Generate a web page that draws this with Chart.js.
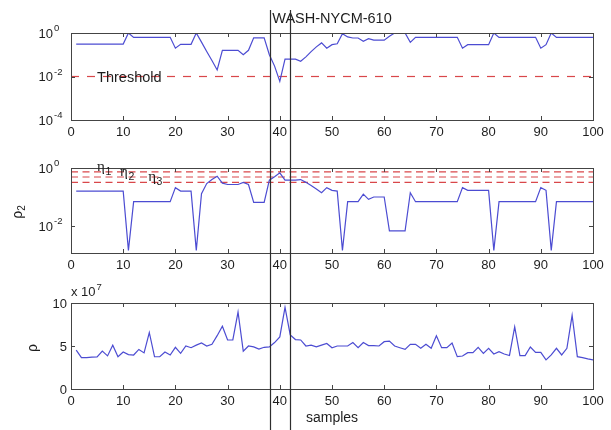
<!DOCTYPE html>
<html>
<head>
<meta charset="utf-8">
<script src="https://cdn.jsdelivr.net/npm/chart.js@4.4.0/dist/chart.umd.min.js"></script>
<style>
  html, body { margin: 0; padding: 0; background: #fff; }
  #wrap { position: relative; width: 611px; height: 430px; overflow: hidden; }
  canvas { position: absolute; left: 0; }
</style>
</head>
<body>
<div id="wrap">
  <canvas id="c1" width="611" height="145" style="top:0px"></canvas>
  <canvas id="c2" width="611" height="138" style="top:145px"></canvas>
  <canvas id="c3" width="611" height="147" style="top:283px"></canvas>
  <canvas id="ov" width="611" height="430" style="top:0px"></canvas>
</div>
<script>
// sample index (x axis of all three panels)
const samples = [
  1, 2, 3, 4, 5, 6, 7, 8, 9, 10, 11, 12, 13, 14, 15, 16, 17, 18, 19, 20,
  21, 22, 23, 24, 25, 26, 27, 28, 29, 30, 31, 32, 33, 34, 35, 36, 37, 38, 39, 40,
  41, 42, 43, 44, 45, 46, 47, 48, 49, 50, 51, 52, 53, 54, 55, 56, 57, 58, 59, 60,
  61, 62, 63, 64, 65, 66, 67, 68, 69, 70, 71, 72, 73, 74, 75, 76, 77, 78, 79, 80,
  81, 82, 83, 84, 85, 86, 87, 88, 89, 90, 91, 92, 93, 94, 95, 96, 97, 98, 99, 100
];

// top panel (log scale)
const rhoTop = [
  0.31, 0.31, 0.31, 0.31, 0.31, 0.31, 0.31, 0.31, 0.31, 0.31,
  1.0, 0.63, 0.63, 0.63, 0.63, 0.63, 0.63, 0.63, 0.63, 0.2,
  0.3, 0.3, 0.3, 1.0, 0.38, 0.14, 0.054, 0.02, 0.16, 0.16,
  0.16, 0.16, 0.1, 0.16, 0.6, 0.6, 0.6, 0.1, 0.03, 0.006,
  0.063, 0.063, 0.063, 0.05, 0.08, 0.14, 0.23, 0.35, 0.2, 0.29,
  0.32, 0.93, 0.66, 0.59, 0.59, 0.42, 0.55, 0.47, 0.47, 0.47,
  0.7, 1.0, 1.0, 1.0, 0.37, 0.63, 0.63, 0.63, 0.63, 0.63,
  0.63, 0.63, 0.63, 0.63, 0.2, 0.29, 0.29, 0.29, 0.29, 0.29,
  1.0, 0.63, 0.63, 0.63, 0.63, 0.63, 0.63, 0.63, 0.63, 0.2,
  0.29, 1.0, 0.63, 0.63, 0.63, 0.63, 0.63, 0.63, 0.63, 0.63
];

// middle panel, rho_2 (log scale)
const rho2 = [
  0.16, 0.16, 0.16, 0.16, 0.16, 0.16, 0.16, 0.16, 0.16, 0.16,
  0.00145, 0.069, 0.069, 0.069, 0.069, 0.069, 0.069, 0.069, 0.069, 0.21,
  0.16, 0.16, 0.16, 0.00145, 0.13, 0.29, 0.4, 0.52, 0.3, 0.27,
  0.27, 0.27, 0.32, 0.27, 0.065, 0.065, 0.065, 0.38, 0.5, 0.68,
  0.38, 0.38, 0.38, 0.4, 0.32, 0.25, 0.19, 0.14, 0.21, 0.17,
  0.16, 0.00145, 0.069, 0.069, 0.069, 0.126, 0.083, 0.1, 0.1, 0.1,
  0.0068, 0.0068, 0.0068, 0.0068, 0.14, 0.069, 0.069, 0.069, 0.069, 0.069,
  0.069, 0.069, 0.069, 0.069, 0.21, 0.17, 0.17, 0.17, 0.17, 0.17,
  0.00145, 0.069, 0.069, 0.069, 0.069, 0.069, 0.069, 0.069, 0.069, 0.21,
  0.17, 0.00145, 0.069, 0.069, 0.069, 0.069, 0.069, 0.069, 0.069, 0.069
];

// bottom panel, rho (in units of 10^7)
const rho = [
  4.53, 3.65, 3.65, 3.7, 3.72, 4.4, 3.85, 5.1, 3.75, 4.3,
  4.0, 3.95, 4.6, 4.2, 6.57, 3.75, 3.75, 4.3, 3.95, 4.85,
  4.15, 5.0, 4.8, 5.1, 5.35, 5.0, 5.2, 6.2, 7.3, 5.7,
  5.7, 8.95, 4.4, 5.0, 4.9, 4.65, 4.85, 4.9, 5.4, 6.05,
  9.5, 6.3, 5.75, 5.7, 5.0, 5.1, 4.9, 5.1, 5.3, 4.8,
  5.0, 5.0, 5.0, 5.4, 4.8, 5.4, 5.05, 5.05, 5.0, 5.5,
  5.57, 5.0, 4.8, 4.6, 5.2, 5.2, 4.75, 5.2, 4.73, 6.2,
  4.8, 4.8, 5.35, 3.76, 3.84, 4.23, 4.23, 4.84, 4.15, 4.73,
  4.07, 4.34, 4.07, 3.9, 7.22, 3.88, 3.88, 4.88, 4.26, 4.26,
  3.38, 3.96, 4.73, 3.96, 4.73, 8.57, 3.76, 3.65, 3.5, 3.38
];

const threshold = 0.01;
const etas = [0.73, 0.49, 0.32];
const markers = [38.2, 42];

const xTicks = [0, 10, 20, 30, 40, 50, 60, 70, 80, 90, 100];
const topYTicks = [1e-4, 1e-2, 1];
const topYExp = ['-4', '-2', '0'];
const midYTicks = [1e-2, 1];
const midYExp = ['-2', '0'];
const botYTicks = [0, 5, 10];

const BLUE = '#4c4cd2';
const RED = '#d9474a';
const AXIS = '#444';
const TXT = '#1e1e1e';
const SANS = '"Liberation Sans", Arial, sans-serif';
const SERIF = '"Liberation Serif", "Times New Roman", serif';

const pts = arr => arr.map((v, i) => ({ x: samples[i], y: v }));
const hline = v => [{ x: 0, y: v }, { x: 100, y: v }];

// MATLAB style box with inward ticks and y tick labels
const boxAxes = {
  id: 'boxAxes',
  afterDraw(chart, args, o) {
    const { ctx, chartArea: a, scales: { x, y } } = chart;
    ctx.save();
    ctx.strokeStyle = AXIS;
    ctx.lineWidth = 1;
    ctx.strokeRect(a.left + 0.5, a.top + 0.5, a.right - a.left, a.bottom - a.top);
    ctx.beginPath();
    xTicks.forEach(v => {
      const px = Math.round(x.getPixelForValue(v)) + 0.5;
      ctx.moveTo(px, a.bottom); ctx.lineTo(px, a.bottom - 4);
      ctx.moveTo(px, a.top); ctx.lineTo(px, a.top + 4);
    });
    o.yTicks.forEach(v => {
      const py = Math.round(y.getPixelForValue(v)) + 0.5;
      ctx.moveTo(a.left, py); ctx.lineTo(a.left + 4, py);
      ctx.moveTo(a.right, py); ctx.lineTo(a.right - 4, py);
    });
    ctx.stroke();

    ctx.fillStyle = TXT;
    ctx.textBaseline = 'middle';
    o.yTicks.forEach((v, i) => {
      const py = y.getPixelForValue(v);
      if (o.yExp) {
        ctx.font = '13px ' + SANS;
        ctx.textAlign = 'right';
        ctx.fillText('10', a.left - 18, py + 1);
        ctx.font = '9.5px ' + SANS;
        ctx.textAlign = 'left';
        ctx.fillText(o.yExp[i], a.left - 17, py - 4.5);
      } else {
        ctx.font = '13px ' + SANS;
        ctx.textAlign = 'right';
        ctx.fillText(String(v), a.left - 4, py + 1);
      }
    });
    if (o.draw) o.draw(chart, ctx);
    ctx.restore();
  }
};

function xScale(height) {
  return {
    type: 'linear', min: 0, max: 100,
    grid: { display: false, drawTicks: false },
    border: { display: false },
    afterBuildTicks: s => { s.ticks = xTicks.map(v => ({ value: v })); },
    afterFit: s => { s.height = height; },
    ticks: { autoSkip: false, maxRotation: 0, padding: 5, color: TXT, font: { family: SANS, size: 13 } }
  };
}

function makeChart(id, datasets, yScale, pad, xh, opts) {
  return new Chart(document.getElementById(id), {
    type: 'line',
    data: { datasets },
    options: {
      responsive: false,
      animation: false,
      devicePixelRatio: 1,
      layout: { padding: pad },
      plugins: { legend: { display: false }, tooltip: { enabled: false }, boxAxes: opts },
      elements: { point: { radius: 0 }, line: { tension: 0 } },
      scales: { x: xScale(xh), y: Object.assign({ display: false }, yScale) }
    },
    plugins: [boxAxes]
  });
}

function rotLabel(ctx, cx, cy, main, sub) {
  ctx.save();
  ctx.translate(cx, cy);
  ctx.rotate(-Math.PI / 2);
  ctx.font = '14px ' + SANS;
  const w1 = ctx.measureText(main).width;
  ctx.font = '10px ' + SANS;
  const w2 = sub ? ctx.measureText(sub).width : 0;
  const x0 = -(w1 + w2) / 2;
  ctx.textAlign = 'left';
  ctx.textBaseline = 'middle';
  ctx.font = '14px ' + SANS;
  ctx.fillText(main, x0, 0);
  if (sub) { ctx.font = '10px ' + SANS; ctx.fillText(sub, x0 + w1, 4); }
  ctx.restore();
}

const c1 = makeChart('c1', [
  { data: pts(rhoTop), borderColor: BLUE, borderWidth: 1.2 },
  { data: hline(threshold), borderColor: RED, borderWidth: 1.2, borderDash: [8, 8] }
], { type: 'logarithmic', min: topYTicks[0], max: topYTicks[2] },
{ left: 71, right: 18, top: 33, bottom: 0 }, 25,
{
  yTicks: topYTicks, yExp: topYExp,
  draw(chart, ctx) {
    const { chartArea: a, scales: { x, y } } = chart;
    ctx.textBaseline = 'middle';
    ctx.textAlign = 'center';
    ctx.font = '14.5px ' + SANS;
    ctx.fillText('WASH-NYCM-610', (a.left + a.right) / 2, 19);
    ctx.textAlign = 'left';
    ctx.font = '14.5px ' + SANS;
    ctx.fillText('Threshold', x.getPixelForValue(5), y.getPixelForValue(threshold) + 1);
  }
});

const etaX = [5, 9.4, 14.8];
const c2 = makeChart('c2', [
  { data: pts(rho2), borderColor: BLUE, borderWidth: 1.2 },
  ...etas.map(e => ({ data: hline(e), borderColor: RED, borderWidth: 1.2, borderDash: [7, 4.5] }))
], { type: 'logarithmic', min: 0.001175, max: 1 },
{ left: 71, right: 18, top: 23, bottom: 0 }, 30,
{
  yTicks: midYTicks, yExp: midYExp,
  draw(chart, ctx) {
    const { scales: { x, y } } = chart;
    ctx.textBaseline = 'middle';
    ctx.textAlign = 'left';
    etas.forEach((e, i) => {
      const px = x.getPixelForValue(etaX[i]);
      const py = y.getPixelForValue(e) - 5;
      ctx.font = '15px ' + SERIF;
      ctx.fillText('\u03b7', px, py);
      const w = ctx.measureText('\u03b7').width;
      ctx.font = '10.5px ' + SANS;
      ctx.fillText(String(i + 1), px + w + 0.5, py + 5);
    });
    // canvas c2 starts at page y=145
    rotLabel(ctx, 18, 212 - 145, '\u03c1', '2');
  }
});

const c3 = makeChart('c3', [
  { data: pts(rho), borderColor: BLUE, borderWidth: 1.2 }
], { type: 'linear', min: 0, max: 10 },
{ left: 71, right: 18, top: 20, bottom: 0 }, 41,
{
  yTicks: botYTicks,
  draw(chart, ctx) {
    const { chartArea: a } = chart;
    ctx.textBaseline = 'alphabetic';
    ctx.textAlign = 'left';
    ctx.font = '13px ' + SANS;
    ctx.fillText('x 10', a.left, a.top - 7);
    const w = ctx.measureText('x 10').width;
    ctx.font = '9.5px ' + SANS;
    ctx.fillText('7', a.left + w + 1, a.top - 13);
    ctx.textAlign = 'center';
    ctx.textBaseline = 'middle';
    ctx.font = '14px ' + SANS;
    ctx.fillText('samples', (a.left + a.right) / 2, 135);
    // canvas c3 starts at page y=283
    rotLabel(ctx, 33.5, 348 - 283, '\u03c1', '');
  }
});

// vertical marker lines crossing all panels
const ov = document.getElementById('ov').getContext('2d');
ov.strokeStyle = '#2e2e2e';
ov.lineWidth = 1.2;
ov.beginPath();
markers.forEach(m => {
  const px = Math.round(c1.scales.x.getPixelForValue(m)) + 0.5;
  ov.moveTo(px, 10);
  ov.lineTo(px, 430);
});
ov.stroke();
</script>
</body>
</html>
